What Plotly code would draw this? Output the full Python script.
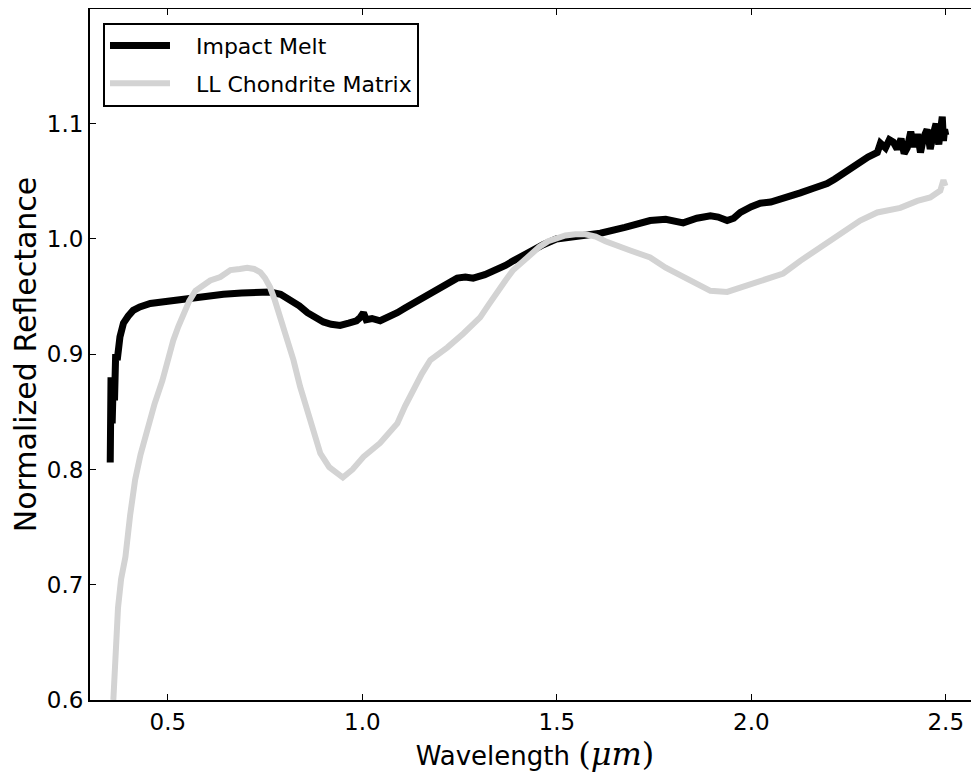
import plotly.graph_objects as go

# Impact Melt spectrum (wavelength in micrometres, normalized reflectance)
melt_wl = [0.352, 0.353, 0.354, 0.357, 0.360, 0.363, 0.366, 0.370, 0.377, 0.386,
           0.398, 0.411, 0.428, 0.455, 0.50, 0.558, 0.60, 0.643, 0.69, 0.730,
           0.763, 0.79, 0.815, 0.838, 0.859, 0.880, 0.900, 0.920, 0.943, 0.965,
           0.985, 0.995, 1.003, 1.010, 1.025, 1.046, 1.068, 1.090, 1.110, 1.131,
           1.153, 1.175, 1.21, 1.244, 1.265, 1.285, 1.315, 1.347, 1.368, 1.388,
           1.41, 1.432, 1.465, 1.499, 1.55, 1.612, 1.675, 1.740, 1.78, 1.825,
           1.86, 1.895, 1.915, 1.938, 1.955, 1.972, 2.0, 2.023, 2.05, 2.082,
           2.105, 2.126, 2.16, 2.195, 2.215, 2.237, 2.26, 2.280, 2.30, 2.324,
           2.332, 2.345, 2.355, 2.365, 2.375, 2.385, 2.393, 2.401, 2.41, 2.418,
           2.427, 2.435, 2.443, 2.452, 2.46, 2.468, 2.475, 2.482, 2.488, 2.491,
           2.494, 2.497, 2.5]
melt_refl = [0.806, 0.86, 0.88, 0.84, 0.88, 0.86, 0.90, 0.895, 0.915, 0.927,
             0.933, 0.938, 0.941, 0.944, 0.946, 0.949, 0.950, 0.952, 0.953, 0.954,
             0.954, 0.952, 0.947, 0.942, 0.936, 0.931, 0.928, 0.926, 0.925, 0.927,
             0.929, 0.932, 0.936, 0.930, 0.931, 0.929, 0.932, 0.936, 0.940, 0.944,
             0.948, 0.953, 0.959, 0.966, 0.967, 0.966, 0.969, 0.973, 0.977, 0.981,
             0.985, 0.990, 0.995, 1.000, 1.002, 1.005, 1.010, 1.016, 1.017, 1.014,
             1.018, 1.020, 1.019, 1.016, 1.018, 1.023, 1.028, 1.031, 1.032, 1.035,
             1.038, 1.040, 1.044, 1.048, 1.052, 1.057, 1.062, 1.068, 1.071, 1.075,
             1.083, 1.079, 1.086, 1.084, 1.078, 1.087, 1.074, 1.079, 1.093, 1.080,
             1.091, 1.075, 1.088, 1.095, 1.078, 1.091, 1.100, 1.082, 1.098, 1.106,
             1.085, 1.095, 1.090]

# LL Chondrite Matrix spectrum
ll_wl = [0.360, 0.366, 0.372, 0.380, 0.391, 0.403, 0.416, 0.430, 0.447, 0.466,
         0.486, 0.500, 0.514, 0.527, 0.540, 0.555, 0.571, 0.590, 0.609, 0.635,
         0.661, 0.685, 0.704, 0.722, 0.738, 0.750, 0.763, 0.775, 0.789, 0.805,
         0.823, 0.840, 0.859, 0.875, 0.892, 0.915, 0.936, 0.950, 0.975, 1.003,
         1.046, 1.090, 1.110, 1.131, 1.153, 1.175, 1.219, 1.260, 1.303, 1.325,
         1.347, 1.368, 1.388, 1.410, 1.432, 1.455, 1.478, 1.500, 1.522, 1.548,
         1.573, 1.600, 1.625, 1.689, 1.740, 1.780, 1.825, 1.860, 1.895, 1.938,
         1.972, 2.023, 2.082, 2.126, 2.160, 2.195, 2.237, 2.280, 2.324, 2.383,
         2.427, 2.460, 2.486, 2.494, 2.499]
ll_refl = [0.600, 0.650, 0.680, 0.705, 0.724, 0.760, 0.791, 0.813, 0.834, 0.857,
           0.877, 0.895, 0.912, 0.924, 0.935, 0.946, 0.955, 0.960, 0.964, 0.967,
           0.973, 0.974, 0.975, 0.974, 0.971, 0.966, 0.958, 0.947, 0.932, 0.914,
           0.895, 0.872, 0.851, 0.832, 0.814, 0.802, 0.797, 0.793, 0.800, 0.811,
           0.823, 0.840, 0.855, 0.869, 0.883, 0.895, 0.906, 0.918, 0.932, 0.943,
           0.955, 0.964, 0.973, 0.980, 0.987, 0.993, 0.998, 1.001, 1.003, 1.004,
           1.004, 1.002, 0.998, 0.990, 0.984, 0.975, 0.967, 0.960, 0.955, 0.954,
           0.958, 0.964, 0.970, 0.981, 0.989, 0.996, 1.007, 1.016, 1.023, 1.027,
           1.033, 1.036, 1.042, 1.051, 1.046]

series_names = ["Impact Melt", "LL Chondrite Matrix"]
x_ticks = [0.5, 1.0, 1.5, 2.0, 2.5]
x_ticklabels = ["0.5", "1.0", "1.5", "2.0", "2.5"]
y_ticks = [0.6, 0.7, 0.8, 0.9, 1.0, 1.1]
y_ticklabels = ["0.6", "0.7", "0.8", "0.9", "1.0", "1.1"]

FONT = "DejaVu Sans"
PAD = "&nbsp;&nbsp;&nbsp;"

fig = go.Figure()
fig.add_trace(go.Scatter(x=melt_wl, y=melt_refl, mode="lines", name=PAD + series_names[0],
                         legendgroup="a",
                         line=dict(color="black", width=7)))
fig.add_trace(go.Scatter(x=ll_wl, y=ll_refl, mode="lines", name=PAD + series_names[1],
                         legendgroup="b",
                         line=dict(color="#d3d3d3", width=6)))

axis_common = dict(showline=True, linecolor="black", linewidth=2, mirror="allticks",
                   ticks="inside", ticklen=6, tickwidth=1, tickcolor="black",
                   showgrid=False, zeroline=False, automargin=False,
                   tickfont=dict(family=FONT, size=23, color="black"))

fig.update_xaxes(range=[0.3, 2.588], tickvals=x_ticks, ticktext=x_ticklabels,
                 title=dict(text="Wavelength <span style='font-family:DejaVu Serif;font-size:32px'>(<i>μm</i>)</span>",
                            font=dict(family=FONT, size=26, color="black"), standoff=2),
                 **axis_common)
fig.update_yaxes(range=[0.6, 1.1995], tickvals=y_ticks, ticktext=y_ticklabels,
                 title=dict(text="Normalized Reflectance",
                            font=dict(family=FONT, size=30, color="black"), standoff=3),
                 **axis_common)

fig.update_layout(
    width=972, height=766,
    margin=dict(l=82, r=0, t=1, b=74, autoexpand=False),
    plot_bgcolor="white", paper_bgcolor="white",
    font=dict(family=FONT, color="black"),
    legend=dict(x=0.0146, y=0.98, xanchor="left", yanchor="top",
                bgcolor="white", bordercolor="black", borderwidth=2,
                font=dict(family=FONT, size=22, color="black"),
                tracegroupgap=6, itemwidth=60),
)

fig.write_html("out.html")
